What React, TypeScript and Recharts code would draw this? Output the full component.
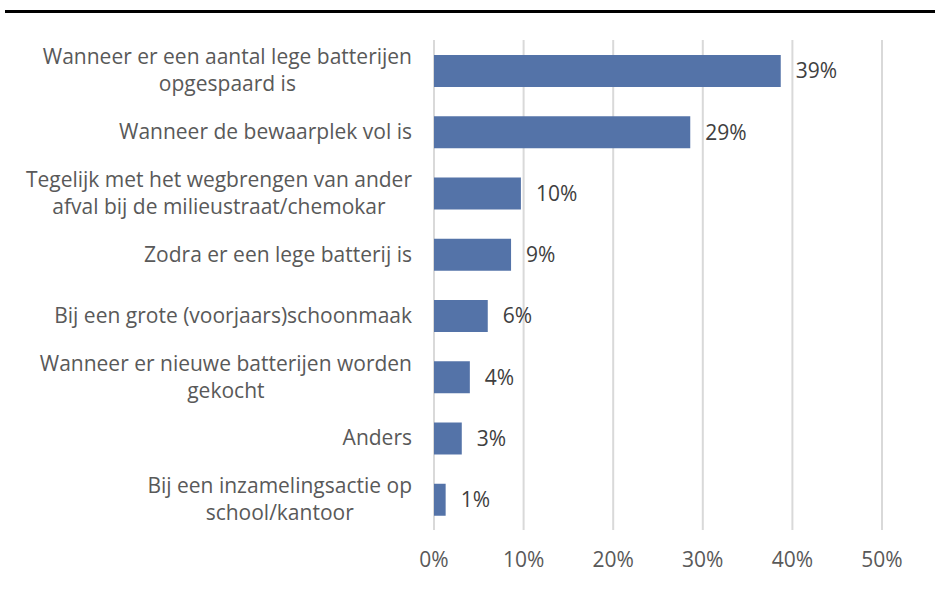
import { BarChart, Bar, XAxis, YAxis, CartesianGrid, LabelList } from "recharts"

const categories = [
  "Wanneer er een aantal lege batterijen\nopgespaard is",
  "Wanneer de bewaarplek vol is",
  "Tegelijk met het wegbrengen van ander\nafval bij de milieustraat/chemokar",
  "Zodra er een lege batterij is",
  "Bij een grote (voorjaars)schoonmaak",
  "Wanneer er nieuwe batterijen worden\ngekocht",
  "Anders",
  "Bij een inzamelingsactie op\nschool/kantoor",
]
const shares = [38.7, 28.6, 9.7, 8.6, 6.0, 4.0, 3.1, 1.3]
const xTicks = [0, 10, 20, 30, 40, 50]

const data = categories.map((name, i) => ({ name, value: shares[i] }))

const FONT = '"Open Sans", sans-serif'
const FONT_SIZE = 21
const TEXT = "#595959"

let ctx: CanvasRenderingContext2D | null = null
const measure = (s: string) => {
  if (!ctx) {
    ctx = document.createElement("canvas").getContext("2d")
    if (ctx) ctx.font = `${FONT_SIZE}px "Open Sans"`
  }
  return ctx ? ctx.measureText(s).width : s.length * 10
}

const CategoryTick = (props: any) => {
  const { x, y, payload } = props
  const lines: string[] = String(payload.value).split("\n")
  const lineH = 27
  const maxW = Math.max(...lines.map(measure))
  const cx = x - maxW / 2
  const y0 = y - ((lines.length - 1) * lineH) / 2
  return (
    <g>
      {lines.map((l, i) => (
        <text
          key={i}
          x={cx}
          y={y0 + i * lineH}
          dy="0.35em"
          textAnchor="middle"
          fill={TEXT}
          fontSize={FONT_SIZE}
          fontFamily={FONT}
        >
          {l}
        </text>
      ))}
    </g>
  )
}

export default function App() {
  return (
    <div style={{ position: "absolute", left: 0, top: 0, width: 935, height: 598, background: "#fff", fontFamily: FONT }}>
      <div style={{ position: "absolute", left: 5, top: 10, width: 930, height: 3, background: "#000" }} />
      <BarChart
        width={935}
        height={598}
        data={data}
        layout="vertical"
        margin={{ top: 40, right: 53, bottom: 28, left: 0 }}
        barCategoryGap={0}
      >
        <CartesianGrid horizontal={false} stroke="#d9d9d9" strokeWidth={2} />
        <XAxis
          type="number"
          domain={[0, 50]}
          ticks={xTicks}
          tickFormatter={(v: number) => `${v}%`}
          axisLine={false}
          tickLine={false}
          tickMargin={16}
          height={40}
          tick={{ fill: TEXT, fontSize: FONT_SIZE, fontFamily: FONT }}
        />
        <YAxis
          type="category"
          dataKey="name"
          width={434}
          axisLine={false}
          tickLine={false}
          tickSize={0}
          tickMargin={22}
          interval={0}
          tick={<CategoryTick />}
        />
        <Bar dataKey="value" fill="#5473a8" barSize={32} isAnimationActive={false}>
          <LabelList
            dataKey="value"
            position="right"
            offset={15}
            formatter={(v: any) => `${Math.round(Number(v))}%`}
            fill="#404040"
            fontSize={FONT_SIZE}
            fontFamily={FONT}
          />
        </Bar>
      </BarChart>
    </div>
  )
}
